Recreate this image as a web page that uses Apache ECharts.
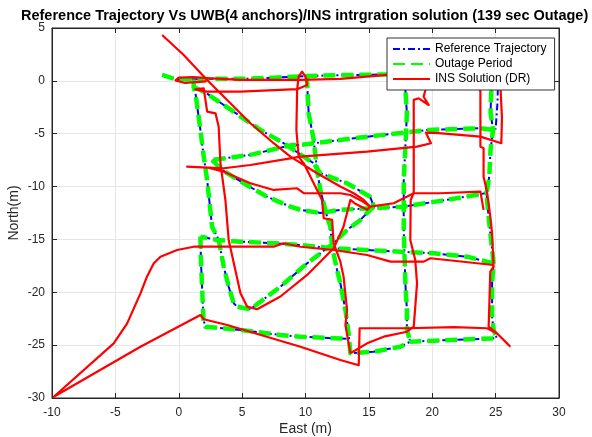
<!DOCTYPE html>
<html><head><meta charset="utf-8">
<script src="https://cdn.jsdelivr.net/npm/echarts@6/dist/echarts.min.js"></script>
<style>html,body{margin:0;padding:0;background:#fff}#c{width:592px;height:437px}</style>
</head><body><div id="c"></div>
<script>
// ---- axis ticks ----
const xTicks = [-10, -5, 0, 5, 10, 15, 20, 25, 30];
const yTicks = [-30, -25, -20, -15, -10, -5, 0, 5];

// ---- Reference trajectory segments [East, North] ----
const refH1 = [[-1.31,0.56],[-0.26,0.15],[1.2,0.15],[3,0.2],[5.5,0.2],[7.5,0.3],[10.1,0.45],[13,0.55],[16.3,0.6],[20,0.7],[24.8,0.8]];
const refV4 = [[24.8,0.8],[24.65,-1.2],[24.6,-3],[24.8,-4.65],[24.6,-6.5],[24.5,-9],[24.3,-10.6],[24.32,-11.3],[24.58,-14.42],[24.84,-17.26],[24.72,-19.15],[24.72,-22.3],[24.84,-23.55],[25.1,-24.35]];
const refV4b = [[25.2,0.7],[25.15,-2],[25.0,-4.6]];
const refH2 = [[24.8,-4.65],[23.8,-4.48],[19.6,-4.65],[14.86,-5.28],[9.6,-6.06],[8.81,-6.1],[5.65,-7.0],[3.2,-7.4],[2.63,-7.49]];
const refH3 = [[2.63,-7.49],[3.42,-8.43],[5.13,-9.69],[6.97,-10.96],[8.81,-11.9],[9.6,-12.2],[11.17,-12.5],[12.75,-12.2],[15.1,-12.05],[17.7,-11.9],[20.4,-11.4],[23.4,-10.8],[24.3,-10.6]];
const refH4 = [[24.84,-17.26],[22.74,-16.63],[20.1,-16.31],[17.48,-16.16],[14.86,-16.0],[12.22,-15.84],[9.6,-15.53],[7.49,-15.36],[4.87,-15.21],[3.03,-15.05],[1.71,-14.74]];
const refH5 = [[1.71,-14.74],[1.75,-17],[1.85,-19.78],[1.95,-22.6],[2.1,-23.25],[4.87,-23.57],[8.02,-24.04],[9.6,-24.2],[12.22,-24.35],[13.35,-24.4]];
const refV2 = [[10.1,0.45],[10.25,-3.07],[10.65,-5.6],[10.91,-8.43],[11.17,-10.32],[11.7,-12.85],[11.96,-13.8],[12.1,-15.69],[12.49,-17.89],[12.75,-19.15],[13.15,-21.67],[13.4,-23.88],[13.54,-25.77],[15.38,-25.62],[17.48,-25.15],[18.27,-24.67],[21.4,-24.51],[25.1,-24.35]];
const refV3 = [[18.0,0.6],[17.88,-0.86],[18.0,-3.07],[17.88,-6.22],[17.75,-9.37],[17.75,-14.1],[17.88,-19.16],[18.0,-21.67],[18.0,-23.55],[18.27,-24.67]];
const refV1 = [[1.2,0.15],[1.17,-0.58],[1.32,-1.17],[1.71,-4.65],[1.97,-7.17],[2.24,-9.37],[2.63,-13.8],[3.15,-15.05],[3.55,-17.58],[3.94,-19.47],[4.34,-21.04],[4.6,-21.36],[5.65,-21.6],[8.02,-19.47],[10.13,-17.26],[12.22,-15.36],[13.28,-14.1],[14.33,-13.16],[15.1,-12.2],[15.4,-11.9]];
const refD1 = [[1.17,-0.58],[2.1,-1.1],[6.44,-4.64],[8.28,-5.9],[10.62,-7.77],[11.17,-8.74],[13.28,-9.69],[15.1,-10.96],[15.4,-11.9]];

// ---- INS (DR) solution segments [East, North] ----
const insA = [[-1.31,4.34],[0.39,2.45],[2.24,0.09],[3.82,-1.81],[5.65,-4.01],[7.49,-5.9],[8.81,-7.17],[10.91,-8.74],[12.75,-10.0],[13.8,-10.63],[14.6,-11.27],[15.1,-11.9],[14.86,-12.2],[13.9,-11.6],[13.54,-11.27],[12.99,-13.82],[12.22,-15.84],[10.13,-18.36],[8.02,-20.4],[6.18,-21.6],[5.4,-21.36],[4.87,-20.1],[3.94,-15.05],[3.68,-11.27],[3.29,-7.8],[3.15,-4.33],[2.9,-3.07],[2.24,-2.91],[1.97,-0.7],[1.3,-0.8],[1.17,-0.9],[2.24,-1.02],[4.87,-1.02],[9.34,-0.79],[10.13,-0.39],[10.0,0.4],[9.73,0.87],[9.46,0.4],[9.34,-0.86],[9.28,-4.64],[9.46,-7.17],[9.86,-7.8],[11.17,-10.95],[11.3,-11.27],[11.44,-13.0],[12.1,-13.15],[12.22,-15.36],[12.75,-17.1],[13.0,-18.5],[13.28,-21.67],[13.15,-23.1],[13.54,-25.77]];
const insB = [[13.54,-25.77],[14.86,-24.83],[16.17,-24.2],[18.0,-23.73],[18.54,-23.25],[18.8,-19.15],[18.66,-16.95],[18.27,-15.05],[18.3,-11.27],[18.54,-10.6],[18.54,-1.8],[18.93,-1.65],[19.72,-2.28],[19.32,-1.5],[19.46,-0.86],[20.5,0.3],[23.5,0.2],[23.8,-1.02],[23.8,-6.22],[24.05,-6.38],[24.05,-9.06],[24.32,-10.48],[24.58,-12.85],[24.72,-14.42],[24.84,-17.58],[24.58,-18.05],[24.45,-23.25],[25.1,-23.88],[25.9,-24.83],[26.16,-25.15]];
const insC = [[2.2,-0.05],[0.5,-0.2],[-0.26,0.05],[0.0,0.3],[1.17,0.36],[2.24,0.25],[4.87,0.09],[9.6,0.09],[12.75,0.18],[16.43,0.56],[20,0.8],[24,1.0],[25.3,0.5],[25.4,-1.02],[25.5,-3.5],[25.45,-5.9],[23.8,-5.28],[20.5,-4.95],[19.5,-4.9],[19.9,-5.9],[18.8,-6.22],[14.86,-6.7],[9.6,-7.17],[8.81,-7.33],[5.65,-7.96],[3.55,-8.27],[0.66,-8.12],[0.8,-8.25],[2.24,-8.2],[3.55,-8.59],[5.65,-9.69],[7.49,-10.32],[9.34,-10.16],[9.86,-10.63],[12.75,-10.63],[13.54,-10.8],[14.5,-11.4],[15.1,-11.9],[16.96,-11.58],[18.54,-10.63],[20.6,-10.63],[23.8,-10.48],[24.05,-12.2]];
const insD = [[24.84,-17.42],[19.85,-16.78],[19.32,-17.1],[16.7,-17.1],[14.86,-16.47],[12.22,-16.0],[9.6,-15.69],[8.28,-15.36],[7.49,-15.69],[1.18,-15.69],[-0.13,-16.0],[-1.44,-16.63],[-1.97,-17.26],[-2.5,-18.5],[-3.02,-20.1],[-4.07,-22.94],[-5.13,-24.83],[-9.86,-29.88],[-3.02,-25.15],[1.71,-22.15],[1.97,-22.55],[3.82,-23.1],[9.6,-25.15],[12.75,-26.4],[14.2,-26.9],[14.27,-23.4],[18.0,-23.4],[21.7,-23.3],[24.32,-23.4],[25.1,-23.88]];

const refSegs = [refH1, refV4, refV4b, refH2, refH3, refH4, refH5, refV2, refV3, refV1, refD1];
const outageSegs = [refH1, refV4, refH2, refH3, refH4, refH5, refV2, refV3, refV1, refD1];
const insSegs = [insA, insB, insC, insD];

const names = ['Reference Trajectory', 'Outage Period', 'INS Solution (DR)'];
const FONT = 'Liberation Sans, Arial, Helvetica, sans-serif';
const AX = '#262626';

const styles = [
  {color: '#0000ff', width: 2, type: [7, 3, 2, 3]},
  {color: '#00ff00', width: 4.5, type: [12, 6]},
  {color: '#ff0000', width: 2.2, type: 'solid'}
];
const series = [];
[refSegs, outageSegs, insSegs].forEach((segs, k) => {
  segs.forEach(seg => {
    series.push({
      type: 'line', name: names[k], data: seg, symbol: 'none', showSymbol: false,
      silent: true, animation: false, smooth: false,
      itemStyle: {color: 'rgba(0,0,0,0)', borderWidth: 0},
      lineStyle: {color: styles[k].color, width: styles[k].width, type: styles[k].type, cap: 'butt', join: 'round'}
    });
  });
});

const chart = echarts.init(document.getElementById('c'), null, {renderer: 'canvas'});
const baseX = {type: 'value', min: xTicks[0], max: xTicks[xTicks.length-1], interval: 5};
const baseY = {type: 'value', min: yTicks[0], max: yTicks[yTicks.length-1], interval: 5};
const line = {show: true, onZero: false, lineStyle: {color: AX}};
const tick = {show: true, inside: true, length: 5, lineStyle: {color: AX}};
chart.setOption({
  animation: false,
  backgroundColor: '#fff',
  title: {text: 'Reference Trajectory Vs UWB(4 anchors)/INS intrgration solution (139 sec Outage)', left: 16, top: 3,
    textStyle: {fontFamily: FONT, fontSize: 14.5, fontWeight: 'bold', color: '#000'}},
  grid: {left: 52, right: 33, top: 28, bottom: 39, show: true, borderColor: AX, borderWidth: 1,
    backgroundColor: 'transparent', outerBoundsMode: 'none', containLabel: false},
  legend: {data: names, orient: 'vertical', left: 387, top: 38, itemWidth: 37, itemHeight: 12, itemGap: 3,
    padding: [5, 8, 5, 5], backgroundColor: '#fff', borderColor: '#333', borderWidth: 1, selectedMode: false,
    itemStyle: {color: 'rgba(0,0,0,0)', borderWidth: 0},
    textStyle: {fontFamily: FONT, fontSize: 12, color: '#000'}},
  xAxis: [
    Object.assign({}, baseX, {position: 'bottom', name: 'East (m)', nameLocation: 'middle', nameGap: 24,
      nameMoveOverlap: false,
      nameTextStyle: {fontFamily: FONT, fontSize: 14, color: AX},
      axisLine: line, axisTick: tick,
      axisLabel: {fontFamily: FONT, fontSize: 12, color: AX, margin: 9},
      splitLine: {show: true, lineStyle: {color: '#e6e6e6', width: 1}}}),
    Object.assign({}, baseX, {position: 'top', axisLine: line,
      axisTick: tick, axisLabel: {show: false}, splitLine: {show: false}})
  ],
  yAxis: [
    Object.assign({}, baseY, {position: 'left', name: 'North(m)', nameLocation: 'middle', nameGap: 31,
      nameMoveOverlap: false,
      nameTextStyle: {fontFamily: FONT, fontSize: 14, color: AX},
      axisLine: line, axisTick: tick,
      axisLabel: {fontFamily: FONT, fontSize: 12, color: AX, margin: 7},
      splitLine: {show: true, lineStyle: {color: '#e6e6e6', width: 1}}}),
    Object.assign({}, baseY, {position: 'right', axisLine: line,
      axisTick: tick, axisLabel: {show: false}, splitLine: {show: false}})
  ],
  series: series
});
</script></body></html>
